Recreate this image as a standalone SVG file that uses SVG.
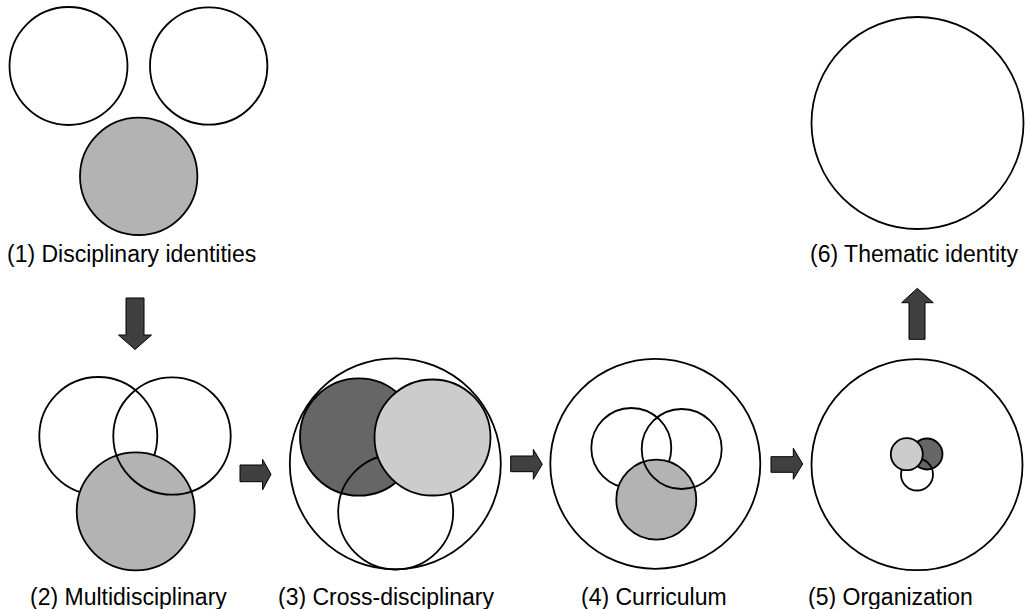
<svg xmlns="http://www.w3.org/2000/svg" width="1029" height="609" viewBox="0 0 1029 609">
  <style>
    .c { stroke: #000; stroke-width: 1.8; fill: #fff; }
    .o { stroke: #000; stroke-width: 1.8; fill: none; }
    .mid { fill: #b3b3b3; }
    .dark { fill: #666; }
    .light { fill: #ccc; }
    .arrow { fill: #404040; stroke: #000; stroke-width: 1; stroke-linejoin: miter; }
    .lbl { font-family: "Liberation Sans", Arial, Helvetica, sans-serif; font-size: 23px; fill: #000; }
  </style>
  <rect width="1029" height="609" fill="#fff"/>

  <!-- Stage 1: separate disciplines -->
  <g id="stage1">
    <circle class="c" cx="68.5" cy="66" r="59"/>
    <circle class="c" cx="208.7" cy="66" r="58.7"/>
    <circle class="c mid" cx="138.7" cy="176.3" r="58.7"/>
    <text class="lbl" x="7" y="262">(1) Disciplinary identities</text>
  </g>

  <!-- Stage 2: overlapping disciplines -->
  <g id="stage2">
    <circle class="c" cx="98.3" cy="436" r="59"/>
    <circle class="o" cx="172" cy="436" r="58.7"/>
    <circle class="c mid" cx="135.7" cy="511.3" r="59"/>
    <circle class="o" cx="172" cy="436" r="58.7" clip-path="url(#clipGray2)"/>
    <text class="lbl" x="30" y="605">(2) Multidisciplinary</text>
  </g>

  <!-- Stage 3: cross-disciplinary -->
  <g id="stage3">
    <circle class="c" cx="395.3" cy="463.8" r="105.5"/>
    <circle class="c dark" cx="358.7" cy="437" r="58.7"/>
    <circle class="o" cx="395.7" cy="512" r="57.5"/>
    <circle class="c light" cx="432.5" cy="437.5" r="58"/>
    <text class="lbl" x="278" y="605">(3) Cross-disciplinary</text>
  </g>

  <!-- Stage 4: curriculum -->
  <g id="stage4">
    <circle class="c" cx="655.3" cy="463.8" r="105"/>
    <circle class="o" cx="631.3" cy="448" r="40"/>
    <circle class="o" cx="681.7" cy="449" r="40"/>
    <circle class="c mid" cx="656.3" cy="499.7" r="40"/>
    <circle class="o" cx="681.7" cy="449" r="40" clip-path="url(#clipGray4)"/>
    <text class="lbl" x="581" y="605">(4) Curriculum</text>
  </g>

  <!-- Stage 5: organization -->
  <g id="stage5">
    <circle class="c" cx="917" cy="464.7" r="105.5"/>
    <circle class="c dark" cx="927" cy="454" r="15.5"/>
    <circle class="o" cx="917" cy="474.5" r="16"/>
    <circle class="c light" cx="906.8" cy="454.2" r="16"/>
    <text class="lbl" x="808" y="605">(5) Organization</text>
  </g>

  <!-- Stage 6: thematic identity -->
  <g id="stage6">
    <circle class="c" cx="917.5" cy="123" r="106"/>
    <text class="lbl" x="810" y="262">(6) Thematic identity</text>
  </g>

  <defs>
    <clipPath id="clipGray2"><circle cx="135.7" cy="511.3" r="59"/></clipPath>
    <clipPath id="clipGray4"><circle cx="656.3" cy="499.7" r="40"/></clipPath>
  </defs>

  <!-- Block arrows between stages -->
  <g id="connectors">
    <polygon class="arrow" points="126,298 144,298 144,335 151.5,335 135,349.5 118.5,335 126,335"/>
    <polygon class="arrow" points="240,465 262.5,465 262.5,459.3 271,474.3 262.5,490 262.5,481.7 240,481.7"/>
    <polygon class="arrow" points="510.7,456 533.3,456 533.3,449.3 542.3,464.3 533.3,479.3 533.3,471.7 510.7,471.7"/>
    <polygon class="arrow" points="771,456.7 793.3,456.7 793.3,448.3 802.7,464 793.3,479.3 793.3,472.3 771,472.3"/>
    <polygon class="arrow" points="909,339.3 925,339.3 925,302.7 933.3,302.7 917.3,288.3 901.7,302.7 909,302.7"/>
  </g>
</svg>
